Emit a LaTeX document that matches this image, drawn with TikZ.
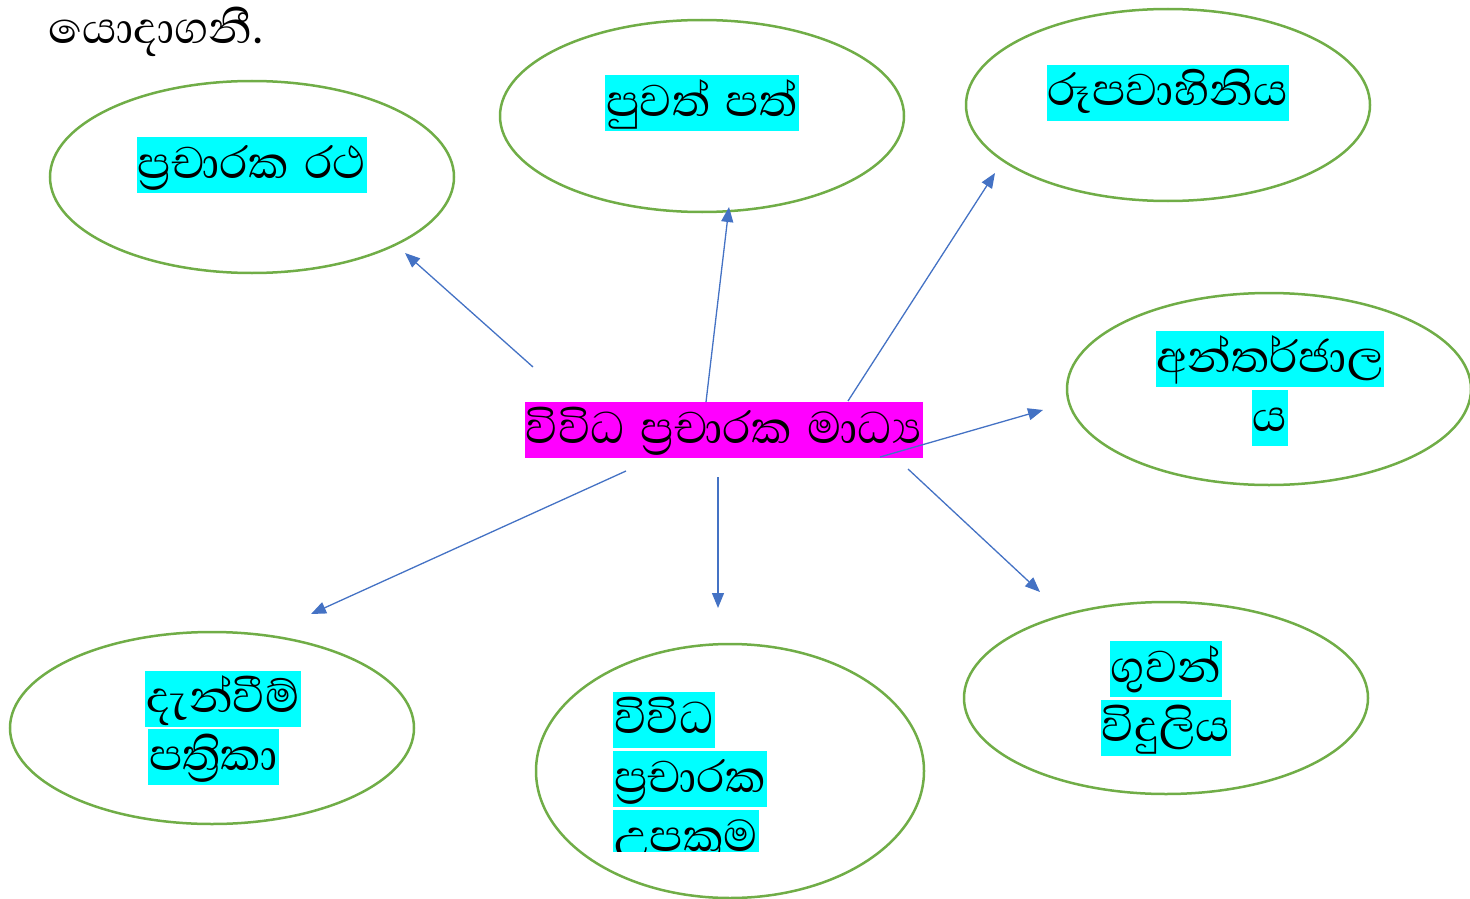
\documentclass[tikz,border=0pt]{standalone}
\usepackage{fontspec}
\usetikzlibrary{shapes.geometric,arrows.meta}
\newfontfamily\sinfont[Script=Sinhala,WordSpace=1.4]{Abhaya Libre}
\definecolor{bubblegreen}{HTML}{70AD47}
\definecolor{arrowblue}{HTML}{4472C4}
\definecolor{hicyan}{HTML}{00FFFF}
\definecolor{himagenta}{HTML}{FF00FF}

\begin{document}
\begin{tikzpicture}[x=1pt,y=-1pt,
  bubble/.style={ellipse,draw=bubblegreen,line width=2.5pt,minimum width=404pt,minimum height=192pt,inner sep=0pt},
  hilite/.style={fill=hicyan,inner xsep=1pt,inner ysep=6pt,text height=35pt,text depth=9pt,font=\sinfont\fontsize{57}{62}\selectfont},
  hub/.style={hilite,fill=himagenta},
  link/.style={draw=arrowblue,line width=1.3pt,-{Triangle[length=15pt,width=12pt]}}]
  \useasboundingbox (0,0) rectangle (1470,899);

  \node[font=\sinfont\fontsize{57}{62}\selectfont,anchor=west,inner sep=0pt] (title) at (48,32) {යොදාගනී.};

  \node[bubble] (ratha) at (252,177) {};
  \node[bubble] (puwath) at (702,116) {};
  \node[bubble] (rupa) at (1168,105) {};
  \node[bubble] (antar) at (1269,389) {};
  \node[bubble] (guwan) at (1166,698) {};
  \node[bubble,minimum width=388pt,minimum height=254pt] (upakrama) at (730,771) {};
  \node[bubble] (danvim) at (212,728) {};

  \node[hilite] (rathaT) at (252,165) {ප්^^^^200dරචාරක රථ};
  \node[hilite] (puwathT) at (702,103) {පුවත් පත්};
  \node[hilite] (rupaT) at (1168,93) {රූපවාහිනිය};
  \node[hilite] (antarA) at (1270,359) {අන්තර්ජාල};
  \node[hilite] (antarB) at (1270,418) {ය};
  \node[hilite] (guwanA) at (1166,669) {ගුවන්};
  \node[hilite] (guwanB) at (1166,728) {විදුලිය};
  \node[hilite,anchor=west] (upaA) at (613,720) {විවිධ};
  \node[hilite,anchor=west] (upaB) at (613,779) {ප්^^^^200dරචාරක};
  \begin{scope}
    \clip (600,800) rectangle (800,851);
    \node[hilite,anchor=west] (upaC) at (613,838) {උපක්^^^^200dරම};
  \end{scope}
  \node[hilite,anchor=west] (danA) at (145,699) {දැන්වීම්};
  \node[hilite,anchor=west] (danB) at (148,757) {පත්^^^^200dරිකා};

  \node[hub] (media) at (724,430) {විවිධ ප්^^^^200dරචාරක මාධ්^^^^200dය};

  \coordinate (fromR) at (533,367);  \coordinate (toR) at (405,253);
  \coordinate (fromP) at (706,402);  \coordinate (toP) at (729,207);
  \coordinate (fromT) at (848,401);  \coordinate (toT) at (995,173);
  \coordinate (fromI) at (880,457);  \coordinate (toI) at (1043,410);
  \coordinate (fromG) at (908,469);  \coordinate (toG) at (1040,592);
  \coordinate (fromU) at (718,477);  \coordinate (toU) at (718,608);
  \coordinate (fromD) at (626,471);  \coordinate (toD) at (311,614);

  \draw[link] (fromR) -- (toR);
  \draw[link] (fromP) -- (toP);
  \draw[link] (fromT) -- (toT);
  \draw[link] (fromI) -- (toI);
  \draw[link] (fromG) -- (toG);
  \draw[link] (fromU) -- (toU);
  \draw[link] (fromD) -- (toD);
\end{tikzpicture}
\end{document}
